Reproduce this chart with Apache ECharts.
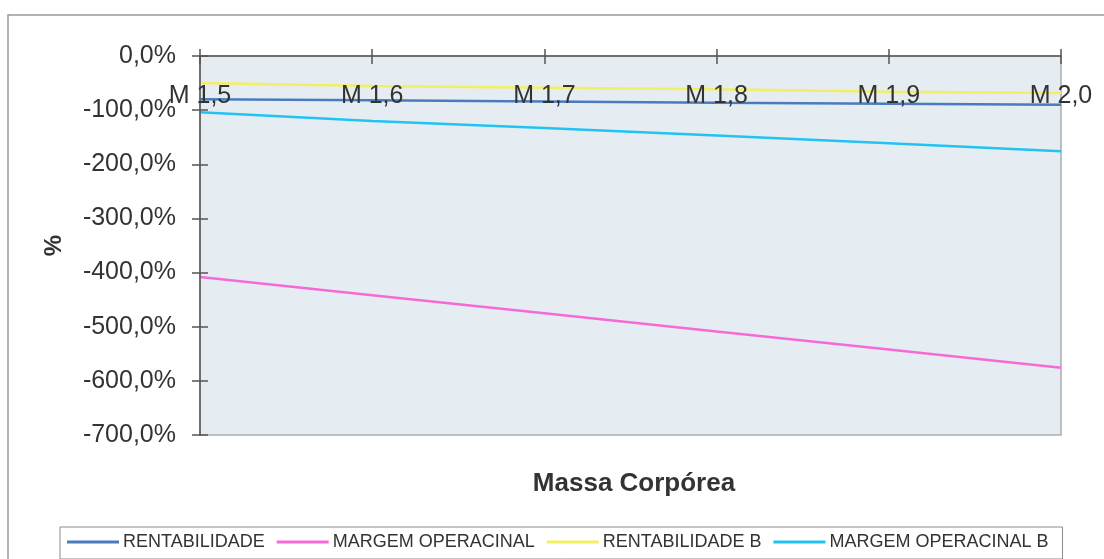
<!DOCTYPE html>
<html>
<head>
<meta charset="utf-8">
<script src="https://cdn.jsdelivr.net/npm/echarts@6/dist/echarts.min.js"></script>
<style>
  html, body { margin: 0; padding: 0; background: #ffffff; }
  #chart { width: 1104px; height: 559px; }
</style>
</head>
<body>
<div id="chart"></div>
<script>
// Body-mass scenarios on the category axis
const categories = ['M 1,5', 'M 1,6', 'M 1,7', 'M 1,8', 'M 1,9', 'M 2,0'];

// Percentages per scenario
const rentabilidade      = [-80, -81.5, -84, -86.5, -88, -90];
const margemOperacinal   = [-408, -442, -475, -509, -542, -576];
const rentabilidadeB     = [-50, -55.5, -58.5, -61.5, -66, -68.5];
const margemOperacinalB  = [-104, -120, -133, -147, -161, -176];

const yTicks = { min: -700, max: 0, step: 100 };

const FONT = "'Liberation Sans', Arial, sans-serif";
const TEXT = '#333333';

const fmtPct = v => v.toFixed(1).replace('.', ',') + '%';

const chart = echarts.init(document.getElementById('chart'));

const mkLine = (name, data, color) => ({
  name, type: 'line', data,
  xAxisIndex: 0, yAxisIndex: 0,
  symbol: 'none', smooth: false,
  lineStyle: { color, width: 2.5 },
  itemStyle: { color },
  z: 5
});

chart.setOption({
  animation: false,
  backgroundColor: '#ffffff',
  textStyle: { fontFamily: FONT },
  grid: {
    left: 200, right: 43, top: 56, bottom: 124,
    show: true, backgroundColor: '#e5edf3',
    borderColor: '#a9adb0', borderWidth: 1.5
  },
  title: {
    text: 'Massa Corpórea',
    left: 629, top: 466, textAlign: 'center',
    textStyle: { fontFamily: FONT, fontSize: 26, fontWeight: 'bold', color: TEXT }
  },
  legend: {
    top: 527, left: 60,
    padding: [6, 14, 8, 7],
    borderColor: '#8a8a8a', borderWidth: 1, borderRadius: 0,
    itemGap: 12, itemWidth: 52, itemHeight: 3, icon: 'rect',
    textStyle: { fontFamily: FONT, fontSize: 18, color: TEXT, padding: [2, 0, 0, -1] },
    data: ['RENTABILIDADE', 'MARGEM OPERACINAL', 'RENTABILIDADE B', 'MARGEM OPERACINAL B']
  },
  xAxis: [
    {
      type: 'category', data: categories, position: 'top', boundaryGap: false,
      axisLine: { show: true, lineStyle: { color: '#555555', width: 1.5 } },
      axisTick: { show: true, inside: false, length: 7, lineStyle: { color: '#555555', width: 1.5 } },
      axisLabel: {
        show: true, inside: true, margin: 28,
        fontFamily: FONT, fontSize: 25, color: TEXT
      },
      splitLine: { show: false }, z: 6
    },
    {
      type: 'category', data: categories, position: 'top', boundaryGap: false,
      axisLine: { show: false },
      axisTick: { show: true, inside: true, length: 8, lineStyle: { color: '#555555', width: 1.5 } },
      axisLabel: { show: false }, splitLine: { show: false }
    }
  ],
  yAxis: [
    {
      type: 'value', min: yTicks.min, max: yTicks.max, interval: yTicks.step,
      name: '%', nameLocation: 'middle', nameRotate: 90, nameGap: 134,
      nameTextStyle: { fontFamily: FONT, fontSize: 24, fontWeight: 'bold', color: TEXT },
      axisLine: { show: true, lineStyle: { color: '#555555', width: 1.5 } },
      axisTick: { show: true, inside: false, length: 8, lineStyle: { color: '#555555', width: 1.5 } },
      axisLabel: { margin: 24, fontFamily: FONT, fontSize: 25, color: TEXT, formatter: fmtPct },
      splitLine: { show: false }, z: 6
    },
    {
      type: 'value', min: yTicks.min, max: yTicks.max, interval: yTicks.step, position: 'left',
      axisLine: { show: false },
      axisTick: { show: true, inside: true, length: 8, lineStyle: { color: '#555555', width: 1.5 } },
      axisLabel: { show: false }, splitLine: { show: false }
    }
  ],
  series: [
    mkLine('RENTABILIDADE', rentabilidade, '#4a7bbd'),
    mkLine('MARGEM OPERACINAL', margemOperacinal, '#f76ad6'),
    mkLine('RENTABILIDADE B', rentabilidadeB, '#f3ef62'),
    mkLine('MARGEM OPERACINAL B', margemOperacinalB, '#22c3f2')
  ],
  graphic: [
    {
      type: 'rect', silent: true, z: -10,
      shape: { x: 8, y: 15, width: 1120, height: 580 },
      style: { fill: 'none', stroke: '#9a9a9a', lineWidth: 1.5 }
    }
  ]
});
</script>
</body>
</html>
